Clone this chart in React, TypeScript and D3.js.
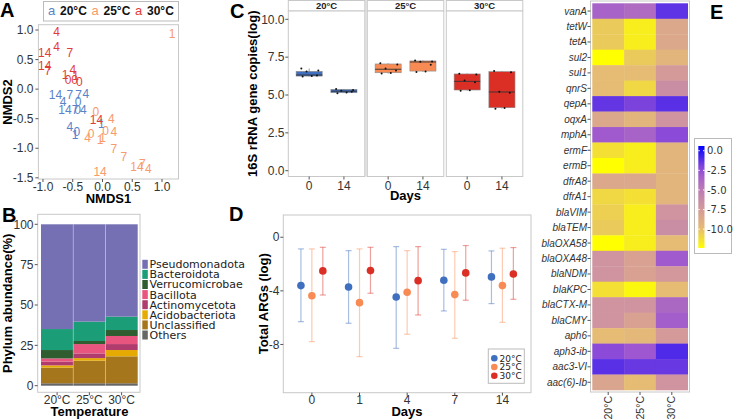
import React from 'react';
import * as d3 from 'd3';

const SANS = "'Liberation Sans', Arial, Helvetica, sans-serif";
const DEJAVU = "'DejaVu Sans', Verdana, sans-serif";
const BORDER = '#c8c8c8';
const TXT = '#333';

const temps = ['20°C', '25°C', '30°C'];
const tempColors = ['#3f6fbf', '#f88b54', '#db2f26'];
const nmdsColors = ['#5a82c8', '#f79a6c', '#e23c3a'];

// A: NMDS ordination, [day, NMDS1, NMDS2]
type Lab = [string, number, number];
const nmds20: Lab[] = [
  ['14', -0.79, -0.10], ['7', -0.55, -0.10], ['7', -0.40, -0.09], ['4', -0.28, -0.08],
  ['4', -0.66, -0.21], ['0', -0.41, -0.21],
  ['14', -0.63, -0.35], ['7', -0.46, -0.35], ['0', -0.42, -0.35], ['4', -0.32, -0.35],
  ['4', -0.55, -0.63], ['0', -0.43, -0.72], ['1', -0.46, -0.77], ['1', -0.02, -0.58],
];
const nmds25: Lab[] = [
  ['1', 1.17, 0.94], ['0', -0.11, -0.38], ['4', 0.15, -0.50],
  ['0', -0.19, -0.75], ['4', -0.25, -0.83], ['1', -0.04, -0.86], ['1', 0.0, -0.83],
  ['0', 0.05, -0.71], ['4', 0.19, -0.72],
  ['7', 0.19, -1.01], ['7', 0.36, -1.14], ['14', 0.58, -1.31], ['7', 0.67, -1.26], ['4', 0.77, -1.35],
  ['14', -0.04, -1.40],
];
const nmds30: Lab[] = [
  ['4', -0.77, 0.97], ['4', -0.77, 0.72], ['14', -0.97, 0.61], ['7', -0.55, 0.61],
  ['14', -0.97, 0.39], ['7', -0.92, 0.31], ['4', -0.50, 0.32],
  ['1', -0.63, 0.24], ['1', -0.45, 0.22], ['0', -0.58, 0.15], ['0', -0.47, 0.15], ['0', -0.39, 0.13],
  ['14', -0.10, -0.52],
];
const nmdsXTicks = [-1, -0.5, 0, 0.5, 1];
const nmdsYTicks = [-1.5, -1, -0.5, 0, 0.5, 1];

// B: phylum composition (%), order 20/25/30°C
const phyla = ['Pseudomonadota', 'Bacteroidota', 'Verrucomicrobae', 'Bacillota',
  'Actinomycetota', 'Acidobacteriota', 'Unclassified', 'Others'];
const phylumColors = ['#7570b3', '#1b9e77', '#2f5d2f', '#e8557f', '#b03c6e', '#e6ab02', '#a6761d', '#666666'];
const pseudomonadota = [64.9, 60.3, 57.2];
const bacteroidota = [13.0, 12.0, 8.3];
const verrucomicrobae = [5.2, 1.9, 3.7];
const bacillota = [2.0, 5.8, 5.0];
const actinomycetota = [2.3, 2.9, 3.7];
const acidobacteriota = [1.4, 1.6, 3.9];
const unclassified = [9.7, 14.0, 16.7];
const others = [1.5, 1.5, 1.5];
const abundanceTicks = [0, 25, 50, 75, 100];

// C: 16S rRNA copies, box stats [min, q1, median, q3, max]
const qpcrDays = ['0', '14'];
const box20 = [[6.22, 6.25, 6.32, 6.56, 6.75], [5.12, 5.15, 5.25, 5.37, 5.40]];
const box25 = [[6.42, 6.47, 6.70, 7.05, 7.10], [6.52, 6.58, 7.18, 7.25, 7.28]];
const box30 = [[5.28, 5.33, 5.90, 6.39, 6.42], [4.10, 4.16, 5.20, 6.54, 6.58]];
const pts20 = [[6.22, 6.25, 6.28, 6.55, 6.62, 6.75], [5.12, 5.16, 5.22, 5.28, 5.33, 5.40]];
const pts25 = [[6.42, 6.45, 6.62, 6.75, 7.02, 7.10], [6.52, 6.56, 7.00, 7.20, 7.22, 7.28]];
const pts30 = [[5.28, 5.32, 5.85, 5.95, 6.35, 6.40], [4.10, 4.14, 5.15, 5.22, 6.50, 6.58]];
const qpcrTicks = [0, 2.5, 5, 7.5, 10];
const jitter = [-0.25, 0.1, 0.3, -0.1, 0.35, -0.3];

// D: total ARGs (log)
const argDays = ['0', '1', '4', '7', '14'];
const argMean20 = [-3.61, -3.71, -4.46, -3.21, -2.96];
const argLow20 = [-6.30, -6.42, -8.29, -5.50, -4.95];
const argHigh20 = [-0.87, -1.00, -0.70, -0.90, -1.02];
const argMean25 = [-4.36, -4.88, -4.11, -4.28, -3.61];
const argLow25 = [-7.79, -8.91, -7.24, -7.54, -6.35];
const argHigh25 = [-0.87, -0.87, -1.00, -1.07, -0.82];
const argMean30 = [-2.51, -2.49, -3.24, -2.66, -2.74];
const argLow30 = [-4.31, -4.18, -5.80, -4.70, -4.63];
const argHigh30 = [-0.75, -0.75, -0.70, -0.62, -0.77];
const argTicks = [0, -4, -8];

// E: heatmap of ARG abundance (log)
const genes = ['vanA', 'tetW', 'tetA', 'sul2', 'sul1', 'qnrS', 'qepA', 'oqxA', 'mphA', 'ermF', 'ermB',
  'dfrA8', 'dfrA1', 'blaVIM', 'blaTEM', 'blaOXA58', 'blaOXA48', 'blaNDM', 'blaKPC', 'blaCTX-M',
  'blaCMY', 'aph6', 'aph3-ib', 'aac3-VI', 'aac(6)-Ib'];
const heat20 = [-3.5, -10.5, -10.5, -12.4, -10.0, -10.0, -1.4, -8.5, -3.0, -11.3, -12.4,
  -8.5, -11.0, -10.7, -10.5, -12.4, -7.0, -7.0, -11.3, -7.0, -7.0, -10.0, -2.2, -1.2, -8.3];
const heat25 = [-4.0, -11.8, -11.8, -10.5, -10.0, -11.0, -1.9, -9.5, -3.5, -11.8, -11.8,
  -8.5, -11.3, -11.8, -11.8, -11.8, -8.0, -8.0, -12.1, -7.0, -8.0, -9.7, -2.8, -1.5, -10.0];
const heat30 = [-1.3, -8.5, -8.5, -9.5, -7.5, -6.5, -1.2, -7.0, -2.2, -9.5, -9.5,
  -9.5, -9.5, -7.0, -6.5, -10.0, -3.0, -7.3, -10.0, -3.8, -3.2, -7.5, -1.0, -1.5, -7.0];
const heatTicks = [0, -2.5, -5, -7.5, -10];

const heatColor = d3.scaleLinear<string>()
  .domain([-12.4, -10, -7.5, -5, -2.5, 0.6])
  .range(['#ffff00', '#e6bc74', '#d49a9a', '#bb7cb4', '#9a52d4', '#0000ff'])
  .interpolate(d3.interpolateRgb);

function PanelA() {
  const x = d3.scaleLinear().domain([-1.077, 1.277]).range([38.4, 178.5]);
  const y = d3.scaleLinear().domain([1.09, -1.52]).range([24.7, 179]);
  const groups = [nmds20, nmds25, nmds30];
  return (
    <g fontFamily={SANS}>
      <text x={0} y={17} fontSize={20} fontWeight="bold">A</text>
      <rect x={43.5} y={1.5} width={135} height={19.5} fill="#fff" stroke="#bbb" />
      {temps.map((t, i) => (
        <g key={t}>
          <text x={48 + i * 43.5} y={15} fontSize={13} fill={nmdsColors[i]}>a</text>
          <text x={60 + i * 43.5} y={15} fontSize={12} fontWeight="bold" fill="#111">{t}</text>
        </g>
      ))}
      <rect x={38.4} y={24.7} width={140.1} height={154.3} fill="#fff" stroke={BORDER} />
      {groups.map((g, gi) => g.map((d, i) => (
        <text key={`${gi}-${i}`} x={x(d[1])} y={y(d[2])} dy="0.35em" textAnchor="middle"
          fontSize={12} fill={nmdsColors[gi]}>{d[0]}</text>
      )))}
      {nmdsYTicks.map(t => (
        <g key={t}>
          <line x1={35.4} x2={38.4} y1={y(t)} y2={y(t)} stroke="#555" />
          <text x={33.5} y={y(t)} dy="0.35em" textAnchor="end" fontSize={12} fill={TXT}>{t.toFixed(1)}</text>
        </g>
      ))}
      {nmdsXTicks.map(t => (
        <g key={t}>
          <line x1={x(t)} x2={x(t)} y1={179} y2={182} stroke="#555" />
          <text x={x(t)} y={191} textAnchor="middle" fontSize={12} fill={TXT}>{t.toFixed(1)}</text>
        </g>
      ))}
      <text x={108.5} y={203} textAnchor="middle" fontSize={13} fontWeight="bold">NMDS1</text>
      <text transform="translate(12,102) rotate(-90)" textAnchor="middle" fontSize={13} fontWeight="bold">NMDS2</text>
    </g>
  );
}

function PanelB() {
  const x = d3.scaleBand().domain(temps).range([41, 137.7]).padding(0);
  const y = d3.scaleLinear().domain([0, 100]).range([385.7, 224.3]);
  const series = [pseudomonadota, bacteroidota, verrucomicrobae, bacillota,
    actinomycetota, acidobacteriota, unclassified, others];
  const rows = temps.map((t, i) => {
    const r: Record<string, number | string> = { temp: t };
    phyla.forEach((p, k) => { r[p] = series[k][i]; });
    return r;
  });
  const stacked = d3.stack<Record<string, number | string>>()
    .keys([...phyla].reverse())
    .value((d, k) => d[k] as number)(rows);
  return (
    <g fontFamily={SANS}>
      <text x={2} y={222} fontSize={20} fontWeight="bold">B</text>
      <rect x={37.7} y={214.3} width={102.3} height={178} fill="#fff" stroke={BORDER} />
      {stacked.map(layer => {
        const ci = phyla.indexOf(layer.key);
        return layer.map((s, i) => (
          <rect key={`${layer.key}-${i}`} x={x(temps[i])} width={x.bandwidth()}
            y={y(s[1])} height={y(s[0]) - y(s[1])} fill={phylumColors[ci]} />
        ));
      })}
      {temps.slice(1).map(t => (
        <line key={t} x1={x(t)} x2={x(t)} y1={y(100)} y2={y(0)} stroke="#fff" strokeOpacity={0.35} strokeWidth={0.8} />
      ))}
      {abundanceTicks.map(t => (
        <g key={t}>
          <line x1={34.7} x2={37.7} y1={y(t)} y2={y(t)} stroke="#555" />
          <text x={33.5} y={y(t)} dy="0.35em" textAnchor="end" fontSize={12} fill={TXT}>{t}</text>
        </g>
      ))}
      {temps.map(t => (
        <g key={t}>
          <line x1={x(t)! + x.bandwidth() / 2} x2={x(t)! + x.bandwidth() / 2} y1={392.3} y2={395.3} stroke="#555" />
          <text x={x(t)! + x.bandwidth() / 2} y={403.5} textAnchor="middle" fontSize={12} fill={TXT}>{t}</text>
        </g>
      ))}
      <text x={89.5} y={415.5} textAnchor="middle" fontSize={13} fontWeight="bold">Temperature</text>
      <text transform="translate(12,303.3) rotate(-90)" textAnchor="middle" fontSize={13} fontWeight="bold">Phylum abundance(%)</text>
      {phyla.map((p, i) => (
        <g key={p} fontFamily={DEJAVU}>
          <rect x={142.3} y={259.8 + i * 10.1} width={5.5} height={9} fill={phylumColors[i]} />
          <text x={149.5} y={264.3 + i * 10.1} dy="0.36em" fontSize={11} fill="#222">{p}</text>
        </g>
      ))}
    </g>
  );
}

function PanelC() {
  const facet = d3.scaleBand().domain(temps).range([288.3, 522.8]).paddingInner(2.5 / 79).paddingOuter(0);
  const y = d3.scaleLinear().domain([0, 10]).range([170.7, 19.3]);
  const boxes = [box20, box25, box30];
  const pts = [pts20, pts25, pts30];
  const top = 11, bottom = 176.5;
  return (
    <g fontFamily={SANS}>
      <text x={230} y={18} fontSize={20} fontWeight="bold">C</text>
      <rect x={364.8} y={0} width={2.5} height={bottom} fill="#e6e6e6" />
      {temps.map((t, ti) => {
        const x0 = facet(t)!;
        const bw = facet.bandwidth();
        const x = d3.scalePoint().domain(qpcrDays).range([x0, x0 + bw]).padding(0.6);
        const w = x.step() * 0.75;
        return (
          <g key={t}>
            <rect x={x0} y={0.5} width={bw} height={top - 0.5} fill="#fff" stroke={BORDER} />
            <text x={x0 + bw / 2} y={top / 2 + 0.5} dy="0.35em" textAnchor="middle" fontSize={9.5} fontWeight="bold" fill="#222">{t}</text>
            <rect x={x0} y={top} width={bw} height={bottom - top} fill="#fff" stroke={BORDER} />
            {qpcrDays.map((d, di) => {
              const [mn, q1, md, q3, mx] = boxes[ti][di];
              const cx = x(d)!;
              return (
                <g key={d}>
                  <line x1={cx} x2={cx} y1={y(mx)} y2={y(mn)} stroke="#555" strokeWidth={0.6} />
                  <rect x={cx - w / 2} y={y(q3)} width={w} height={y(q1) - y(q3)} fill={tempColors[ti]} stroke="#8a8a8a" strokeWidth={0.6} />
                  <line x1={cx - w / 2} x2={cx + w / 2} y1={y(md)} y2={y(md)} stroke="#333" strokeWidth={0.9} />
                  {pts[ti][di].map((v, k) => (
                    <circle key={k} cx={cx + jitter[k] * w} cy={y(v)} r={1} fill="#111" />
                  ))}
                  <line x1={cx} x2={cx} y1={bottom} y2={bottom + 3} stroke="#555" />
                  <text x={cx} y={189.5} textAnchor="middle" fontSize={12} fill={TXT}>{d}</text>
                </g>
              );
            })}
          </g>
        );
      })}
      {qpcrTicks.map(t => (
        <g key={t}>
          <line x1={285.3} x2={288.3} y1={y(t)} y2={y(t)} stroke="#555" />
          <text x={284.5} y={y(t)} dy="0.35em" textAnchor="end" fontSize={12} fill={TXT}>{t.toFixed(1)}</text>
        </g>
      ))}
      <text x={405.5} y={200} textAnchor="middle" fontSize={13} fontWeight="bold">Days</text>
      <text transform="translate(257,93.7) rotate(-90)" textAnchor="middle" fontSize={13} fontWeight="bold">16S rRNA gene copies(log)</text>
    </g>
  );
}

function PanelD() {
  const x = d3.scalePoint().domain(argDays).range([283.3, 531]).padding(0.6);
  const y = d3.scaleLinear().domain([1.66, -11.6]).range([215, 392.7]);
  const dodge = x.step() * 0.23;
  const means = [argMean20, argMean25, argMean30];
  const lows = [argLow20, argLow25, argLow30];
  const highs = [argHigh20, argHigh25, argHigh30];
  return (
    <g fontFamily={SANS}>
      <text x={229} y={221} fontSize={20} fontWeight="bold">D</text>
      <rect x={283.3} y={215} width={247.7} height={177.7} fill="#fff" stroke={BORDER} />
      {temps.map((t, ti) => argDays.map((d, di) => {
        const cx = x(d)! + (ti - 1) * dodge;
        return (
          <g key={`${t}-${d}`}>
            <g stroke={tempColors[ti]} strokeOpacity={0.45} strokeWidth={1.2}>
              <line x1={cx} x2={cx} y1={y(highs[ti][di])} y2={y(lows[ti][di])} />
              <line x1={cx - 3} x2={cx + 3} y1={y(highs[ti][di])} y2={y(highs[ti][di])} />
              <line x1={cx - 3} x2={cx + 3} y1={y(lows[ti][di])} y2={y(lows[ti][di])} />
            </g>
            <circle cx={cx} cy={y(means[ti][di])} r={3.8} fill={tempColors[ti]} />
          </g>
        );
      }))}
      {argTicks.map(t => (
        <g key={t}>
          <line x1={280.3} x2={283.3} y1={y(t)} y2={y(t)} stroke="#555" />
          <text x={279.5} y={y(t)} dy="0.35em" textAnchor="end" fontSize={12} fill={TXT}>{t}</text>
        </g>
      ))}
      {argDays.map(d => (
        <g key={d}>
          <line x1={x(d)} x2={x(d)} y1={392.7} y2={395.7} stroke="#555" />
          <text x={x(d)} y={403.5} textAnchor="middle" fontSize={12} fill={TXT}>{d}</text>
        </g>
      ))}
      <text x={407} y={415.5} textAnchor="middle" fontSize={13} fontWeight="bold">Days</text>
      <text transform="translate(268,303.8) rotate(-90)" textAnchor="middle" fontSize={13} fontWeight="bold">Total ARGs (log)</text>
      <rect x={488.3} y={349} width={36} height={34.3} fill="#fff" stroke="#bbb" />
      {temps.map((t, i) => (
        <g key={t}>
          <circle cx={494.3} cy={358.3 + i * 8.7} r={3.3} fill={tempColors[i]} />
          <text x={499.5} y={358.3 + i * 8.7} dy="0.36em" fontSize={9} fontFamily={DEJAVU} fill="#222">{t}</text>
        </g>
      ))}
    </g>
  );
}

function PanelE() {
  const y = d3.scaleBand().domain(genes).range([3.3, 390]).padding(0);
  const x = d3.scaleBand().domain(temps).range([592.3, 687.7]).padding(0);
  const cols = [heat20, heat25, heat30];
  const cb = d3.scaleLinear().domain([0.6, -12.4]).range([146, 248]);
  const stops = d3.range(0, 11).map(i => 0.6 - (13 * i) / 10);
  return (
    <g fontFamily={SANS}>
      <defs>
        <linearGradient id="cbGrad" x1="0" y1="0" x2="0" y2="1">
          {stops.map((v, i) => (
            <stop key={i} offset={`${i * 10}%`} stopColor={heatColor(v)} />
          ))}
        </linearGradient>
      </defs>
      <text x={710} y={19} fontSize={20} fontWeight="bold">E</text>
      <rect x={590.5} y={1} width={99} height={391} fill="#fff" stroke={BORDER} />
      {temps.map((t, ci) => genes.map((g, gi) => (
        <rect key={`${t}-${g}`} x={x(t)} y={y(g)} width={x.bandwidth() + 0.3} height={y.bandwidth() + 0.3}
          fill={heatColor(cols[ci][gi])} />
      )))}
      {genes.map(g => (
        <g key={g}>
          <line x1={587.5} x2={590.5} y1={y(g)! + y.bandwidth() / 2} y2={y(g)! + y.bandwidth() / 2} stroke="#555" />
          <text x={587} y={y(g)! + y.bandwidth() / 2} dy="0.35em" textAnchor="end" fontSize={10}
            fontStyle="italic" fill={TXT}>{g}</text>
        </g>
      ))}
      {temps.map(t => (
        <g key={t}>
          <line x1={x(t)! + x.bandwidth() / 2} x2={x(t)! + x.bandwidth() / 2} y1={392} y2={395} stroke="#555" />
          <text transform={`translate(${x(t)! + x.bandwidth() / 2},396) rotate(-90)`} dy="0.35em"
            textAnchor="end" fontSize={10.5} fill={TXT}>{t}</text>
        </g>
      ))}
      <rect x={694.5} y={138.5} width={37} height={115} fill="#fff" stroke="#bbb" />
      <rect x={698.3} y={146} width={6.2} height={102} fill="url(#cbGrad)" />
      {heatTicks.map(t => (
        <g key={t}>
          <line x1={698.3} x2={699.8} y1={cb(t)} y2={cb(t)} stroke="#fff" />
          <line x1={703} x2={704.5} y1={cb(t)} y2={cb(t)} stroke="#fff" />
          <text x={707} y={cb(t)} dy="0.36em" fontSize={10} fontFamily={DEJAVU} fill={TXT}>{t.toFixed(1)}</text>
        </g>
      ))}
    </g>
  );
}

export default function App() {
  return (
    <div style={{ position: 'absolute', left: 0, top: 0 }}>
      <svg width={733} height={420} viewBox="0 0 733 420" style={{ display: 'block', background: '#fff' }}>
        <PanelA />
        <PanelB />
        <PanelC />
        <PanelD />
        <PanelE />
      </svg>
    </div>
  );
}
